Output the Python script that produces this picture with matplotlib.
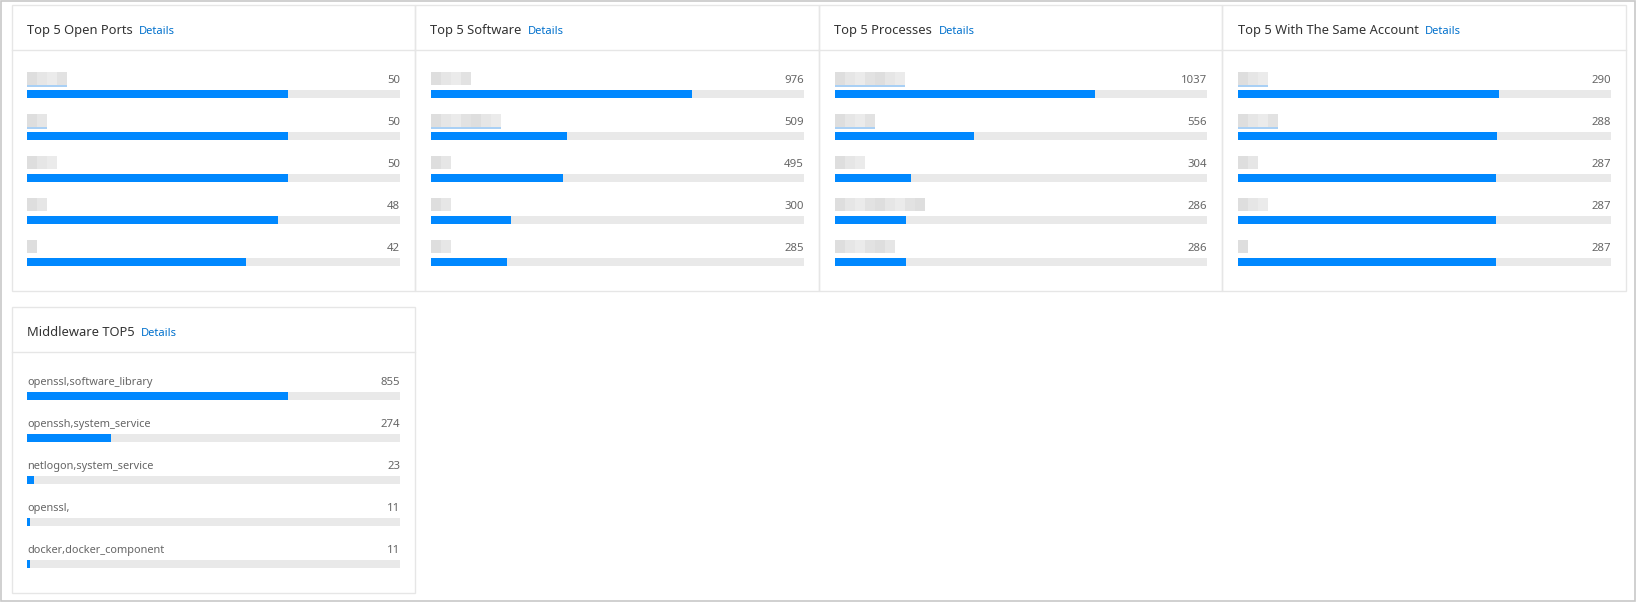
import matplotlib
matplotlib.use("Agg")
import matplotlib.pyplot as plt
from matplotlib.patches import Rectangle
from matplotlib.transforms import IdentityTransform

# ---------------- data ----------------
panel_titles = ["Top 5 Open Ports", "Top 5 Software", "Top 5 Processes",
                "Top 5 With The Same Account", "Middleware TOP5"]
link_text = "Details"

open_ports_values = [50, 50, 50, 48, 42]
software_values = [976, 509, 495, 300, 285]
processes_values = [1037, 556, 304, 286, 286]
same_account_values = [290, 288, 287, 287, 287]
middleware_values = [855, 274, 23, 11, 11]
middleware_labels = ["openssl,software_library", "openssh,system_service",
                     "netlogon,system_service", "openssl,", "docker,docker_component"]

# redacted (pixelated) labels in the source: approximate widths in mosaic cells
redacted_cells = [
    [4, 2, 3, 2, 1],
    [4, 7, 2, 2, 2],
    [7, 4, 3, 9, 6],
    [3, 4, 2, 3, 1],
]
redacted_underline = [
    [True, True, False, False, False],
    [False, True, False, False, False],
    [True, True, False, False, False],
    [True, True, False, False, False],
]

# ---------------- style ----------------
W, H = 1636, 602
BLUE = "#0088ff"
TRACK = "#e9e9e9"
BORDER = "#e6e6e6"
TITLE_C = "#333333"
LINK_C = "#0070cc"
VAL_C = "#666666"
FONT = "Noto Sans"

fig = plt.figure(figsize=(W / 100, H / 100), dpi=100)
fig.patch.set_facecolor("white")
bg = fig.add_axes([0, 0, 1, 1])
bg.set_xlim(0, W)
bg.set_ylim(H, 0)
bg.axis("off")

# outer frame
bg.add_patch(Rectangle((0.75, 0.75), W - 1.5, H - 1.5, fill=False,
                       edgecolor="#c8c8c8", lw=1.2))

panels = [
    (11.5, 5, 415, panel_titles[0], open_ports_values, None, 0),
    (415, 5, 819, panel_titles[1], software_values, None, 1),
    (819, 5, 1222, panel_titles[2], processes_values, None, 2),
    (1222, 5, 1626, panel_titles[3], same_account_values, None, 3),
    (11.5, 307, 415, panel_titles[4], middleware_values, middleware_labels, None),
]
PANEL_H = 286


def px_axes(x0, y0, x1, y1):
    return fig.add_axes([x0 / W, 1 - y1 / H, (x1 - x0) / W, (y1 - y0) / H])


for (left, top, right, title, values, labels, ridx) in panels:
    bg.add_patch(Rectangle((left, top), right - left, PANEL_H, fill=False,
                           edgecolor=BORDER, lw=1.0))
    bg.plot([left, right], [top + 45, top + 45], color=BORDER, lw=1.0)
    t = bg.text(left + 15.5, top + 29, title, fontsize=9.3, color=TITLE_C,
                family=FONT, va="baseline", ha="left")
    fig.canvas.draw()
    bb = t.get_window_extent()
    bg.text(bb.x1 + 6, H - (top + 29), link_text, fontsize=8.0, color=LINK_C,
            family=FONT, va="baseline", ha="left", transform=IdentityTransform())

    tl, tr = left + 15.5, right - 15
    ax = px_axes(tl, top + 55, tr, top + 280)
    ax.axis("off")
    xmax = max(values) / 0.7
    ax.set_xlim(0, xmax)
    # row units: bar centre of row i at pixel top+89+42*i
    y_lo = (55 - 89) / 42.0
    y_hi = (280 - 89) / 42.0
    ax.set_ylim(y_hi, y_lo)
    rows = list(range(len(values)))
    ax.barh(rows, [xmax] * len(values), height=8 / 42, color=TRACK, left=0)
    ax.barh(rows, values, height=8 / 42, color=BLUE, left=0)
    base = -11 / 42  # text baseline relative to bar centre
    for i, v in enumerate(values):
        ax.text(xmax, i + base, str(v), fontsize=8.2, color=VAL_C,
                family=FONT, ha="right", va="baseline")
        if labels is not None:
            ax.text(0, i + base, labels[i], fontsize=7.9, color=VAL_C,
                    family=FONT, ha="left", va="baseline")
        else:
            n = redacted_cells[ridx][i]
            cw = 10 / (tr - tl) * xmax
            for c in range(n):
                shade = ["#dedede", "#e6e6e6", "#ebebeb", "#e2e2e2"][c % 4]
                ax.add_patch(Rectangle((c * cw, i - 22 / 42), cw, 13 / 42,
                                       color=shade, lw=0, clip_on=False))
            if redacted_underline[ridx][i]:
                ax.add_patch(Rectangle((0, i - 9 / 42), n * cw, 1.5 / 42,
                                       color="#a9d0f5", lw=0, clip_on=False))

fig.savefig("out.png", dpi=100, facecolor="white")
